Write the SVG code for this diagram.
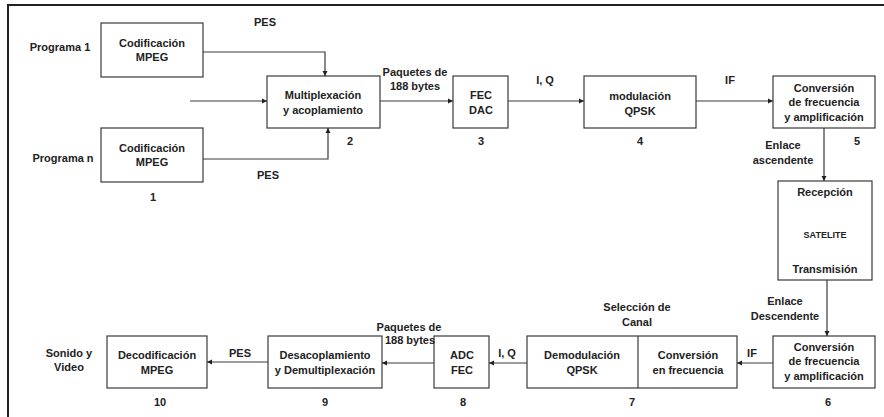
<svg xmlns="http://www.w3.org/2000/svg" width="884" height="417" viewBox="0 0 884 417">
<style>
.b{fill:#fff;stroke:#3a3a3a;stroke-width:1.2}
.c{fill:none;stroke:#3a3a3a;stroke-width:1.2}
text{font-family:"Liberation Sans",Arial,sans-serif;font-size:11px;font-weight:bold;fill:#222;text-anchor:middle}
</style>
<defs>
<marker id="a" markerWidth="6" markerHeight="6" refX="5" refY="3" orient="auto" markerUnits="userSpaceOnUse">
<path d="M0,0.5 L5,3 L0,5.5 Z" fill="#222"/>
</marker>
</defs>
<rect width="884" height="417" fill="#fff"/>
<path d="M8,417 V5 H884" fill="none" stroke="#222" stroke-width="2"/>

<g id="n1a"><rect class="b" x="101" y="23" width="102" height="54"/><text x="152" y="47">Codificación</text><text x="152" y="61">MPEG</text></g>
<g id="n1b"><rect class="b" x="101" y="128" width="102" height="54"/><text x="152" y="152">Codificación</text><text x="152" y="166">MPEG</text><text x="153" y="201">1</text></g>
<g id="n2"><rect class="b" x="267" y="76" width="113" height="52"/><text x="323" y="99">Multiplexación</text><text x="323" y="114">y acoplamiento</text><text x="350" y="145">2</text></g>
<g id="n3"><rect class="b" x="453" y="76" width="55" height="52"/><text x="481" y="99">FEC</text><text x="481" y="114">DAC</text><text x="481" y="145">3</text></g>
<g id="n4"><rect class="b" x="584" y="76" width="112" height="52"/><text x="640" y="100">modulación</text><text x="640" y="115">QPSK</text><text x="640" y="145">4</text></g>
<g id="n5"><rect class="b" x="773" y="76" width="102" height="52"/><text x="824" y="92">Conversión</text><text x="824" y="106">de frecuencia</text><text x="824" y="121">y amplificación</text><text x="857" y="145">5</text></g>
<g id="sat"><rect class="b" x="778" y="181" width="94" height="99"/><text x="825" y="196">Recepción</text><text x="825" y="238" style="font-size:9px">SATELITE</text><text x="825" y="273">Transmisión</text></g>
<g id="n6"><rect class="b" x="773" y="336" width="102" height="52"/><text x="824" y="351">Conversión</text><text x="824" y="365">de frecuencia</text><text x="824" y="380">y amplificación</text><text x="828" y="406">6</text></g>
<g id="n7"><rect class="b" x="527" y="336" width="210" height="52"/><line class="c" x1="638" y1="336" x2="638" y2="388"/><text x="582" y="359">Demodulación</text><text x="582" y="374">QPSK</text><text x="688" y="359">Conversión</text><text x="688" y="374">en frecuencia</text><text x="632" y="406">7</text></g>
<g id="n8"><rect class="b" x="434" y="336" width="55" height="52"/><text x="462" y="359">ADC</text><text x="462" y="374">FEC</text><text x="463" y="406">8</text></g>
<g id="n9"><rect class="b" x="268" y="336" width="114" height="52"/><text x="325" y="359">Desacoplamiento</text><text x="325" y="374">y Demultiplexación</text><text x="325" y="406">9</text></g>
<g id="n10"><rect class="b" x="107" y="336" width="100" height="52"/><text x="157" y="359">Decodificación</text><text x="157" y="374">MPEG</text><text x="160" y="406">10</text></g>

<g id="connectors">
<path class="c" d="M203,52 H325 V76" marker-end="url(#a)"/>
<path class="c" d="M203,159 H328 V128" marker-end="url(#a)"/>
<path class="c" d="M190,101 H267" marker-end="url(#a)"/>
<path class="c" d="M380,101 H453" marker-end="url(#a)"/>
<path class="c" d="M508,101 H584" marker-end="url(#a)"/>
<path class="c" d="M696,101 H773" marker-end="url(#a)"/>
<path class="c" d="M824,128 V181" marker-end="url(#a)"/>
<path class="c" d="M827,280 V336" marker-end="url(#a)"/>
<path class="c" d="M773,363 H737" marker-end="url(#a)"/>
<path class="c" d="M527,363 H489" marker-end="url(#a)"/>
<path class="c" d="M434,363 H382" marker-end="url(#a)"/>
<path class="c" d="M268,362 H207" marker-end="url(#a)"/>
</g>

<g id="labels">
<text x="60" y="51">Programa 1</text>
<text x="63" y="162">Programa n</text>
<text x="265" y="26">PES</text>
<text x="268" y="179">PES</text>
<text x="415" y="76">Paquetes de</text>
<text x="415" y="90">188 bytes</text>
<text x="545" y="84">I, Q</text>
<text x="730" y="84">IF</text>
<text x="783" y="149">Enlace</text>
<text x="783" y="164">ascendente</text>
<text x="785" y="305">Enlace</text>
<text x="785" y="320">Descendente</text>
<text x="752" y="357">IF</text>
<text x="637" y="311">Selección de</text>
<text x="637" y="326">Canal</text>
<text x="507" y="357">I, Q</text>
<text x="409" y="331">Paquetes de</text>
<text x="410" y="344">188 bytes</text>
<text x="240" y="357">PES</text>
<text x="69" y="357">Sonido y</text>
<text x="69" y="371">Video</text>
</g>
</svg>
